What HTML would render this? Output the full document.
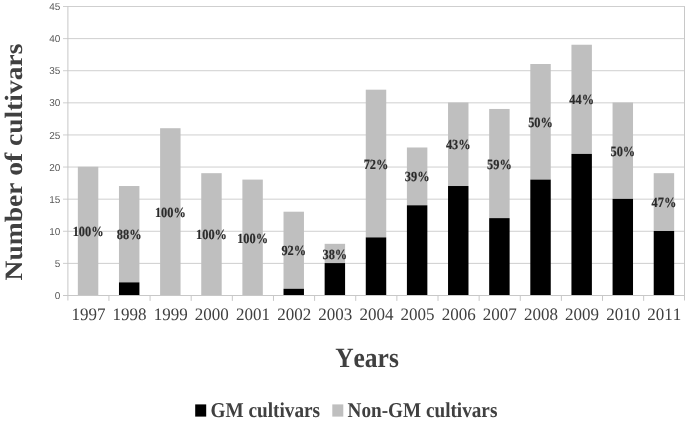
<!DOCTYPE html><html><head><meta charset="utf-8"><style>html,body{margin:0;padding:0;background:#fff;overflow:hidden}svg{display:block}text{text-rendering:geometricPrecision;font-kerning:none}</style></head><body>
<svg width="685" height="422" viewBox="0 0 685 422" style="will-change:transform;filter:blur(0.35px)">
<rect width="685" height="422" fill="#fff"/>
<line x1="63" x2="685" y1="263.39" y2="263.39" stroke="#cfcfcf" stroke-width="1"/>
<line x1="63" x2="685" y1="231.28" y2="231.28" stroke="#cfcfcf" stroke-width="1"/>
<line x1="63" x2="685" y1="199.17" y2="199.17" stroke="#cfcfcf" stroke-width="1"/>
<line x1="63" x2="685" y1="167.06" y2="167.06" stroke="#cfcfcf" stroke-width="1"/>
<line x1="63" x2="685" y1="134.94" y2="134.94" stroke="#cfcfcf" stroke-width="1"/>
<line x1="63" x2="685" y1="102.83" y2="102.83" stroke="#cfcfcf" stroke-width="1"/>
<line x1="63" x2="685" y1="70.72" y2="70.72" stroke="#cfcfcf" stroke-width="1"/>
<line x1="63" x2="685" y1="38.61" y2="38.61" stroke="#cfcfcf" stroke-width="1"/>
<line x1="63" x2="685" y1="6.5" y2="6.5" stroke="#cfcfcf" stroke-width="1"/>
<text x="60.3" y="299.10" text-anchor="end" font-family="Liberation Sans, sans-serif" font-size="10" fill="#595959">0</text>
<text x="60.3" y="266.99" text-anchor="end" font-family="Liberation Sans, sans-serif" font-size="10" fill="#595959">5</text>
<text x="60.3" y="234.88" text-anchor="end" font-family="Liberation Sans, sans-serif" font-size="10" fill="#595959">10</text>
<text x="60.3" y="202.77" text-anchor="end" font-family="Liberation Sans, sans-serif" font-size="10" fill="#595959">15</text>
<text x="60.3" y="170.66" text-anchor="end" font-family="Liberation Sans, sans-serif" font-size="10" fill="#595959">20</text>
<text x="60.3" y="138.54" text-anchor="end" font-family="Liberation Sans, sans-serif" font-size="10" fill="#595959">25</text>
<text x="60.3" y="106.43" text-anchor="end" font-family="Liberation Sans, sans-serif" font-size="10" fill="#595959">30</text>
<text x="60.3" y="74.32" text-anchor="end" font-family="Liberation Sans, sans-serif" font-size="10" fill="#595959">35</text>
<text x="60.3" y="42.21" text-anchor="end" font-family="Liberation Sans, sans-serif" font-size="10" fill="#595959">40</text>
<text x="60.3" y="10.10" text-anchor="end" font-family="Liberation Sans, sans-serif" font-size="10" fill="#595959">45</text>
<line x1="67.9" x2="67.9" y1="6.50" y2="300.50" stroke="#c8c8c8" stroke-width="1"/>
<line x1="684.5" x2="684.5" y1="6.50" y2="300.50" stroke="#c8c8c8" stroke-width="1"/>
<line x1="108.93" x2="108.93" y1="295.50" y2="300.90" stroke="#c8c8c8" stroke-width="1"/>
<line x1="150.07" x2="150.07" y1="295.50" y2="300.90" stroke="#c8c8c8" stroke-width="1"/>
<line x1="191.20" x2="191.20" y1="295.50" y2="300.90" stroke="#c8c8c8" stroke-width="1"/>
<line x1="232.33" x2="232.33" y1="295.50" y2="300.90" stroke="#c8c8c8" stroke-width="1"/>
<line x1="273.47" x2="273.47" y1="295.50" y2="300.90" stroke="#c8c8c8" stroke-width="1"/>
<line x1="314.60" x2="314.60" y1="295.50" y2="300.90" stroke="#c8c8c8" stroke-width="1"/>
<line x1="355.73" x2="355.73" y1="295.50" y2="300.90" stroke="#c8c8c8" stroke-width="1"/>
<line x1="396.87" x2="396.87" y1="295.50" y2="300.90" stroke="#c8c8c8" stroke-width="1"/>
<line x1="438.00" x2="438.00" y1="295.50" y2="300.90" stroke="#c8c8c8" stroke-width="1"/>
<line x1="479.13" x2="479.13" y1="295.50" y2="300.90" stroke="#c8c8c8" stroke-width="1"/>
<line x1="520.27" x2="520.27" y1="295.50" y2="300.90" stroke="#c8c8c8" stroke-width="1"/>
<line x1="561.40" x2="561.40" y1="295.50" y2="300.90" stroke="#c8c8c8" stroke-width="1"/>
<line x1="602.53" x2="602.53" y1="295.50" y2="300.90" stroke="#c8c8c8" stroke-width="1"/>
<line x1="643.67" x2="643.67" y1="295.50" y2="300.90" stroke="#c8c8c8" stroke-width="1"/>
<rect x="77.84" y="166.76" width="20.45" height="128.44" fill="#bfbfbf"/>
<rect x="118.97" y="186.02" width="20.45" height="96.33" fill="#bfbfbf"/>
<rect x="118.97" y="282.36" width="20.45" height="12.84" fill="#000"/>
<rect x="160.11" y="128.22" width="20.45" height="166.98" fill="#bfbfbf"/>
<rect x="201.24" y="173.18" width="20.45" height="122.02" fill="#bfbfbf"/>
<rect x="242.38" y="179.60" width="20.44" height="115.60" fill="#bfbfbf"/>
<rect x="283.51" y="211.71" width="20.45" height="77.07" fill="#bfbfbf"/>
<rect x="283.51" y="288.78" width="20.45" height="6.42" fill="#000"/>
<rect x="324.64" y="243.82" width="20.45" height="19.27" fill="#bfbfbf"/>
<rect x="324.64" y="263.09" width="20.45" height="32.11" fill="#000"/>
<rect x="365.77" y="89.69" width="20.46" height="147.71" fill="#bfbfbf"/>
<rect x="365.77" y="237.40" width="20.46" height="57.80" fill="#000"/>
<rect x="406.91" y="147.49" width="20.45" height="57.80" fill="#bfbfbf"/>
<rect x="406.91" y="205.29" width="20.45" height="89.91" fill="#000"/>
<rect x="448.04" y="102.53" width="20.45" height="83.49" fill="#bfbfbf"/>
<rect x="448.04" y="186.02" width="20.45" height="109.18" fill="#000"/>
<rect x="489.17" y="108.96" width="20.45" height="109.18" fill="#bfbfbf"/>
<rect x="489.17" y="218.13" width="20.45" height="77.07" fill="#000"/>
<rect x="530.31" y="64.00" width="20.45" height="115.60" fill="#bfbfbf"/>
<rect x="530.31" y="179.60" width="20.45" height="115.60" fill="#000"/>
<rect x="571.44" y="44.73" width="20.45" height="109.18" fill="#bfbfbf"/>
<rect x="571.44" y="153.91" width="20.45" height="141.29" fill="#000"/>
<rect x="612.57" y="102.53" width="20.45" height="96.33" fill="#bfbfbf"/>
<rect x="612.57" y="198.87" width="20.45" height="96.33" fill="#000"/>
<rect x="653.71" y="173.18" width="20.45" height="57.80" fill="#bfbfbf"/>
<rect x="653.71" y="230.98" width="20.45" height="64.22" fill="#000"/>
<line x1="63" x2="685" y1="295.50" y2="295.50" stroke="#c8c8c8" stroke-width="1"/>
<text transform="translate(88.47,320.3) scale(1,1.03)" text-anchor="middle" font-family="Liberation Serif, serif" font-size="17" fill="#404040">1997</text>
<text transform="translate(88.07,236.08) scale(1,1.135)" text-anchor="middle" font-family="Liberation Serif, serif" font-weight="bold" font-size="12.35" fill="#2a2a2a" stroke="#2a2a2a" stroke-width="0.15">100%</text>
<text transform="translate(129.60,320.3) scale(1,1.03)" text-anchor="middle" font-family="Liberation Serif, serif" font-size="17" fill="#404040">1998</text>
<text transform="translate(129.20,239.29) scale(1,1.135)" text-anchor="middle" font-family="Liberation Serif, serif" font-weight="bold" font-size="12.35" fill="#2a2a2a" stroke="#2a2a2a" stroke-width="0.15">88%</text>
<text transform="translate(170.73,320.3) scale(1,1.03)" text-anchor="middle" font-family="Liberation Serif, serif" font-size="17" fill="#404040">1999</text>
<text transform="translate(170.33,216.81) scale(1,1.135)" text-anchor="middle" font-family="Liberation Serif, serif" font-weight="bold" font-size="12.35" fill="#2a2a2a" stroke="#2a2a2a" stroke-width="0.15">100%</text>
<text transform="translate(211.87,320.3) scale(1,1.03)" text-anchor="middle" font-family="Liberation Serif, serif" font-size="17" fill="#404040">2000</text>
<text transform="translate(211.47,239.29) scale(1,1.135)" text-anchor="middle" font-family="Liberation Serif, serif" font-weight="bold" font-size="12.35" fill="#2a2a2a" stroke="#2a2a2a" stroke-width="0.15">100%</text>
<text transform="translate(253.00,320.3) scale(1,1.03)" text-anchor="middle" font-family="Liberation Serif, serif" font-size="17" fill="#404040">2001</text>
<text transform="translate(252.60,242.50) scale(1,1.135)" text-anchor="middle" font-family="Liberation Serif, serif" font-weight="bold" font-size="12.35" fill="#2a2a2a" stroke="#2a2a2a" stroke-width="0.15">100%</text>
<text transform="translate(294.13,320.3) scale(1,1.03)" text-anchor="middle" font-family="Liberation Serif, serif" font-size="17" fill="#404040">2002</text>
<text transform="translate(293.73,255.34) scale(1,1.135)" text-anchor="middle" font-family="Liberation Serif, serif" font-weight="bold" font-size="12.35" fill="#2a2a2a" stroke="#2a2a2a" stroke-width="0.15">92%</text>
<text transform="translate(335.27,320.3) scale(1,1.03)" text-anchor="middle" font-family="Liberation Serif, serif" font-size="17" fill="#404040">2003</text>
<text transform="translate(334.87,258.56) scale(1,1.135)" text-anchor="middle" font-family="Liberation Serif, serif" font-weight="bold" font-size="12.35" fill="#2a2a2a" stroke="#2a2a2a" stroke-width="0.15">38%</text>
<text transform="translate(376.40,320.3) scale(1,1.03)" text-anchor="middle" font-family="Liberation Serif, serif" font-size="17" fill="#404040">2004</text>
<text transform="translate(376.00,168.64) scale(1,1.135)" text-anchor="middle" font-family="Liberation Serif, serif" font-weight="bold" font-size="12.35" fill="#2a2a2a" stroke="#2a2a2a" stroke-width="0.15">72%</text>
<text transform="translate(417.53,320.3) scale(1,1.03)" text-anchor="middle" font-family="Liberation Serif, serif" font-size="17" fill="#404040">2005</text>
<text transform="translate(417.13,181.49) scale(1,1.135)" text-anchor="middle" font-family="Liberation Serif, serif" font-weight="bold" font-size="12.35" fill="#2a2a2a" stroke="#2a2a2a" stroke-width="0.15">39%</text>
<text transform="translate(458.67,320.3) scale(1,1.03)" text-anchor="middle" font-family="Liberation Serif, serif" font-size="17" fill="#404040">2006</text>
<text transform="translate(458.27,149.38) scale(1,1.135)" text-anchor="middle" font-family="Liberation Serif, serif" font-weight="bold" font-size="12.35" fill="#2a2a2a" stroke="#2a2a2a" stroke-width="0.15">43%</text>
<text transform="translate(499.80,320.3) scale(1,1.03)" text-anchor="middle" font-family="Liberation Serif, serif" font-size="17" fill="#404040">2007</text>
<text transform="translate(499.40,168.64) scale(1,1.135)" text-anchor="middle" font-family="Liberation Serif, serif" font-weight="bold" font-size="12.35" fill="#2a2a2a" stroke="#2a2a2a" stroke-width="0.15">59%</text>
<text transform="translate(540.93,320.3) scale(1,1.03)" text-anchor="middle" font-family="Liberation Serif, serif" font-size="17" fill="#404040">2008</text>
<text transform="translate(540.53,126.90) scale(1,1.135)" text-anchor="middle" font-family="Liberation Serif, serif" font-weight="bold" font-size="12.35" fill="#2a2a2a" stroke="#2a2a2a" stroke-width="0.15">50%</text>
<text transform="translate(582.07,320.3) scale(1,1.03)" text-anchor="middle" font-family="Liberation Serif, serif" font-size="17" fill="#404040">2009</text>
<text transform="translate(581.67,104.42) scale(1,1.135)" text-anchor="middle" font-family="Liberation Serif, serif" font-weight="bold" font-size="12.35" fill="#2a2a2a" stroke="#2a2a2a" stroke-width="0.15">44%</text>
<text transform="translate(623.20,320.3) scale(1,1.03)" text-anchor="middle" font-family="Liberation Serif, serif" font-size="17" fill="#404040">2010</text>
<text transform="translate(622.80,155.80) scale(1,1.135)" text-anchor="middle" font-family="Liberation Serif, serif" font-weight="bold" font-size="12.35" fill="#2a2a2a" stroke="#2a2a2a" stroke-width="0.15">50%</text>
<text transform="translate(664.33,320.3) scale(1,1.03)" text-anchor="middle" font-family="Liberation Serif, serif" font-size="17" fill="#404040">2011</text>
<text transform="translate(663.93,207.18) scale(1,1.135)" text-anchor="middle" font-family="Liberation Serif, serif" font-weight="bold" font-size="12.35" fill="#2a2a2a" stroke="#2a2a2a" stroke-width="0.15">47%</text>
<text transform="translate(367,367.2) scale(1,1.1)" text-anchor="middle" font-family="Liberation Serif, serif" font-weight="bold" font-size="25.5" fill="#404040">Years</text>
<text transform="translate(21.7,162) rotate(-90) scale(1.1,1)" text-anchor="middle" font-family="Liberation Serif, serif" font-weight="bold" font-size="25" fill="#404040">Number of cultivars</text>
<rect x="195.2" y="404.4" width="11" height="12.2" fill="#000"/>
<text transform="translate(210.5,416.8) scale(1,1.1)" font-family="Liberation Serif, serif" font-weight="bold" font-size="19.25" fill="#404040">GM cultivars</text>
<rect x="332.3" y="404.4" width="11" height="12.2" fill="#bfbfbf"/>
<text transform="translate(347.6,416.8) scale(1,1.1)" font-family="Liberation Serif, serif" font-weight="bold" font-size="19.2" fill="#404040">Non-GM cultivars</text>
</svg></body></html>
